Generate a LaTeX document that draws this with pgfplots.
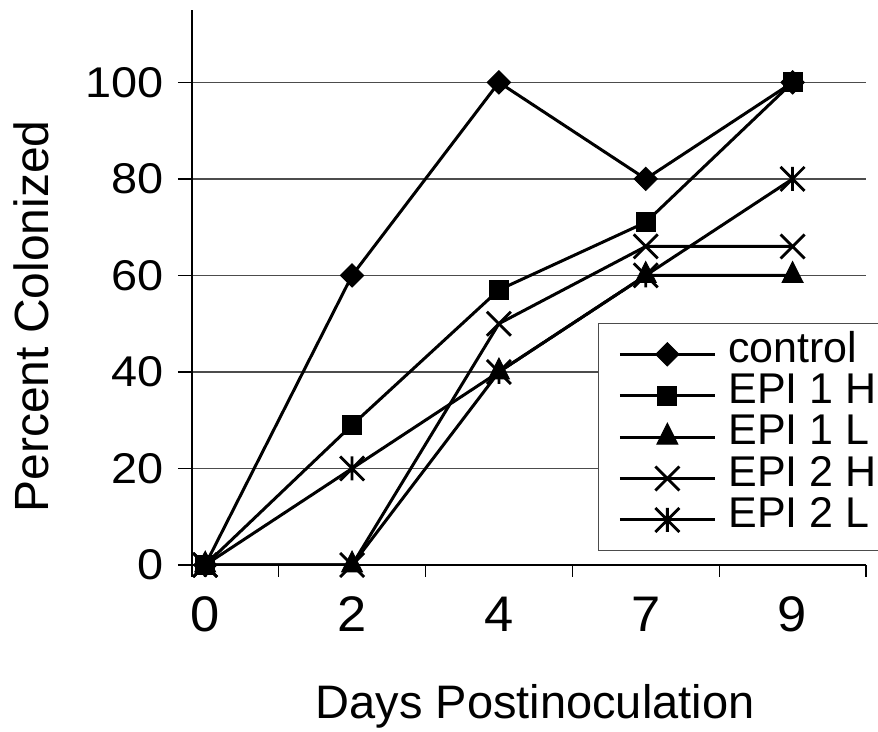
\documentclass[border=0pt]{standalone}
\usepackage{fontspec}
\setmainfont{Liberation Sans}
\newfontfamily\yticks{Liberation Sans}[FakeStretch=1.09]
\newfontfamily\xticks{Liberation Sans}[FakeStretch=1.05]
\usepackage{pgfplots}
\pgfplotsset{compat=1.18}
\pgfdeclareplotmark{xast}{%
  \pgfpathmoveto{\pgfqpoint{-\pgfplotmarksize}{-\pgfplotmarksize}}%
  \pgfpathlineto{\pgfqpoint{\pgfplotmarksize}{\pgfplotmarksize}}%
  \pgfpathmoveto{\pgfqpoint{-\pgfplotmarksize}{\pgfplotmarksize}}%
  \pgfpathlineto{\pgfqpoint{\pgfplotmarksize}{-\pgfplotmarksize}}%
  \pgfpathmoveto{\pgfqpoint{0pt}{-\pgfplotmarksize}}%
  \pgfpathlineto{\pgfqpoint{0pt}{\pgfplotmarksize}}%
  \pgfusepathqstroke}
\pgfdeclareplotmark{xx}{%
  \pgfpathmoveto{\pgfqpoint{-\pgfplotmarksize}{-\pgfplotmarksize}}%
  \pgfpathlineto{\pgfqpoint{\pgfplotmarksize}{\pgfplotmarksize}}%
  \pgfpathmoveto{\pgfqpoint{-\pgfplotmarksize}{\pgfplotmarksize}}%
  \pgfpathlineto{\pgfqpoint{\pgfplotmarksize}{-\pgfplotmarksize}}%
  \pgfusepathqstroke}
\begin{document}
\begin{tikzpicture}[font=\fontsize{21}{25}\selectfont]
\useasboundingbox (0,0) rectangle (439pt,366pt);
\begin{axis}[
  at={(96pt,83.5pt)}, anchor=south west,
  scale only axis, width=337pt, height=277.5pt,
  xmin=-0.09, xmax=4.5, ymin=0, ymax=115,
  axis x line*=bottom, axis y line*=left,
  axis line style={line width=0.6pt, black},
  xtick={0,1,2,3,4}, xticklabels={0,2,4,7,9},
  minor xtick={-0.09,0.5,1.5,2.5,3.5,4.5},
  ytick={0,20,40,60,80,100},
  tick align=outside,
  major tick length=7pt, minor tick length=6pt,
  major x tick style={draw=none},
  tick style={line width=0.6pt, black},
  ymajorgrids,
  grid style={line width=0.6pt, gray!60!black},
  /pgf/number format/assume math mode=true,
  yticklabel style={font=\yticks\fontsize{21.5}{25}\selectfont, xshift=-3.5pt},
  xticklabel style={font=\xticks\fontsize{25}{30}\selectfont, anchor=base, yshift=-26.5pt},
  xlabel={Days Postinoculation},
  ylabel={Percent Colonized},
  xlabel style={font=\fontsize{23.5}{28}\selectfont, at={(axis description cs:0.509,-0.2757)}, anchor=base},
  ylabel style={font=\fontsize{24}{28}\selectfont, at={(axis description cs:-0.239,0.448)}, anchor=center},
  every axis plot/.append style={line width=1.5pt, black},
  legend image code/.code={\draw[mark repeat=2,mark phase=2] plot coordinates {(0pt,0pt)(23.75pt,0pt)(47.5pt,0pt)}; \path (53.5pt,0pt);},
  legend cell align=left,
  legend style={at={(axis description cs:0.602,0.436)}, anchor=north west,
    draw=gray!60!black, line width=0.6pt, font=\fontsize{21.5}{25}\selectfont,
    inner xsep=10pt, inner ysep=5pt, row sep=0pt,
    nodes={inner sep=0pt, text height=14.2pt, text depth=6.5pt}},
]
\addplot[mark=square*, mark size=4.1pt, mark options={solid, fill=black, rotate=45, line width=0.5pt}] coordinates {(0,0) (1,60) (2,100) (3,80) (4,100)};
\addlegendentry{control}
\addplot[mark=square*, mark size=4.75pt, mark options={solid, fill=black, line width=0.5pt}] coordinates {(0,0) (1,29) (2,57) (3,71) (4,100)};
\addlegendentry{EPI 1 H}
\addplot[mark=triangle*, mark size=6pt, mark options={solid, fill=black, line width=0.5pt, yscale=1.15}] coordinates {(0,0) (1,0) (2,40) (3,60) (4,60)};
\addlegendentry{EPI 1 L}
\addplot[mark=xx, mark size=6pt, mark options={solid, line width=1.4pt}] coordinates {(0,0) (1,0) (2,50) (3,66) (4,66)};
\addlegendentry{EPI 2 H}
\addplot[mark=xast, mark size=6pt, mark options={solid, line width=1.4pt}] coordinates {(0,0) (1,20) (2,40) (3,60) (4,80)};
\addlegendentry{EPI 2 L}
\end{axis}
\end{tikzpicture}
\end{document}
